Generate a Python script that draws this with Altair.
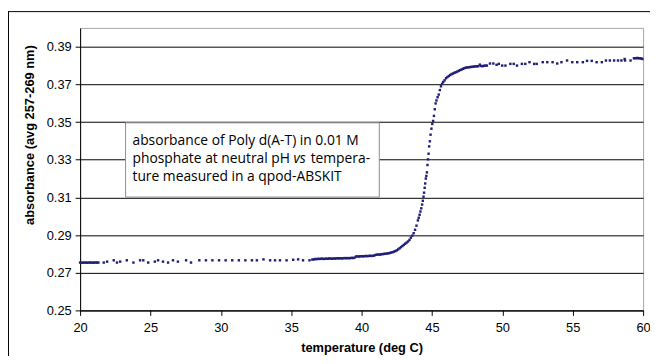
import altair as alt
import pandas as pd

# ---- data ----
temps_low = [20.0, 20.1, 20.2, 20.3, 20.4, 20.5, 20.6, 20.7, 20.8, 20.9,
             21.0, 21.1, 21.2, 21.3,
             21.68, 21.92, 22.39, 22.62, 22.85,
             23.32, 23.79, 24.26, 24.49, 24.84,
             25.31, 25.54, 25.89, 26.25, 26.6,
             26.95, 27.53, 27.88, 28.47, 28.94,
             29.4, 29.87, 30.34, 30.81, 31.28,
             31.74, 32.21, 32.56, 33.03, 33.5,
             33.85, 34.2, 34.67, 35.14, 35.49,
             35.84, 36.3]
abs_low = [0.2754, 0.2754, 0.2753, 0.2754, 0.2754, 0.2753, 0.2754, 0.2754, 0.2754, 0.2753,
           0.2754, 0.2754, 0.2754, 0.2754,
           0.2754, 0.2759, 0.2766, 0.2754, 0.2759,
           0.2766, 0.2754, 0.2766, 0.2766, 0.2754,
           0.2759, 0.2766, 0.2759, 0.2754, 0.2766,
           0.2759, 0.2766, 0.2754, 0.2766, 0.2766,
           0.2766, 0.2766, 0.2766, 0.2766, 0.2766,
           0.2766, 0.2766, 0.2766, 0.2771, 0.2766,
           0.2766, 0.2766, 0.2766, 0.2769, 0.2771,
           0.2766, 0.2766]

temps_pre = [36.5, 36.6, 36.7, 36.8, 36.9, 37.0, 37.1, 37.2, 37.3, 37.4,
             37.5, 37.6, 37.7, 37.8, 37.9, 38.0, 38.1, 38.2, 38.3, 38.4,
             38.5, 38.6, 38.7, 38.8, 38.9, 39.0, 39.1, 39.2, 39.3, 39.4,
             39.5, 39.6, 39.7, 39.8, 39.9, 40.0, 40.1, 40.2, 40.3, 40.4,
             40.5, 40.6, 40.7, 40.8, 40.9, 41.0, 41.1, 41.2, 41.3, 41.4,
             41.5, 41.6, 41.7, 41.8, 41.9]
abs_pre = [0.2770, 0.2771, 0.2773, 0.2772, 0.2774, 0.2773, 0.2774, 0.2775, 0.2773, 0.2774,
           0.2775, 0.2774, 0.2776, 0.2775, 0.2774, 0.2776, 0.2775, 0.2776, 0.2777, 0.2776,
           0.2777, 0.2776, 0.2777, 0.2778, 0.2777, 0.2778, 0.2777, 0.2778, 0.2779, 0.2778,
           0.2780, 0.2786, 0.2787, 0.2786, 0.2787, 0.2788, 0.2787, 0.2788, 0.2789, 0.2788,
           0.2789, 0.2790, 0.2789, 0.2790, 0.2791, 0.2795, 0.2796, 0.2797, 0.2796, 0.2798,
           0.2799, 0.2800, 0.2801, 0.2802, 0.2803]

temps_melt = [42.0, 42.1, 42.2, 42.3, 42.4, 42.5, 42.6, 42.7, 42.8, 42.9,
              43.0, 43.1, 43.2, 43.3, 43.4, 43.5, 43.6, 43.7, 43.8, 43.9,
              44.0, 44.06, 44.12, 44.18, 44.24, 44.3, 44.35, 44.4, 44.44, 44.48,
              44.52, 44.56, 44.6, 44.64, 44.68, 44.72, 44.76, 44.8, 44.85, 44.9,
              44.96, 45.02, 45.08, 45.14, 45.2, 45.26, 45.32, 45.4, 45.48, 45.56,
              45.64, 45.72, 45.8, 45.9, 46.0, 46.1, 46.2, 46.3, 46.4, 46.5,
              46.6, 46.7, 46.8, 46.9, 47.0, 47.1, 47.2, 47.3, 47.4, 47.5,
              47.6, 47.7, 47.8, 47.9, 48.0, 48.1, 48.2, 48.3, 48.4, 48.5,
              48.6, 48.7, 48.8, 48.9]
abs_melt = [0.2805, 0.2807, 0.2809, 0.2812, 0.2815, 0.2819, 0.2824, 0.2830, 0.2836, 0.2842,
            0.2848, 0.2854, 0.2860, 0.2866, 0.2874, 0.2886, 0.2897, 0.2910, 0.2928, 0.2950,
            0.2978, 0.2992, 0.3008, 0.3025, 0.3042, 0.3062, 0.3082, 0.3104, 0.3125, 0.3151,
            0.3174, 0.3200, 0.3214, 0.3233, 0.3272, 0.3302, 0.3332, 0.3371, 0.3398, 0.3433,
            0.3465, 0.3490, 0.3506, 0.3533, 0.3568, 0.3599, 0.3615, 0.3632, 0.3646, 0.3670,
            0.3690, 0.3703, 0.3713, 0.3722, 0.3733, 0.3739, 0.3745, 0.3750, 0.3755, 0.3758,
            0.3762, 0.3765, 0.3768, 0.3772, 0.3776, 0.3779, 0.3783, 0.3786, 0.3789, 0.3790,
            0.3791, 0.3792, 0.3793, 0.3794, 0.3795, 0.3796, 0.3796, 0.3797, 0.3805, 0.3798,
            0.3797, 0.3799, 0.3800, 0.3800]

temps_high = [49.12, 49.36, 49.59, 49.75, 49.99,
              50.22, 50.57, 50.81, 51.04, 51.39,
              51.63, 51.93, 52.26, 52.44, 52.87,
              53.19, 53.57, 53.9, 54.2, 54.6,
              54.97, 55.32, 55.72, 56.02, 56.35,
              56.7, 57.07, 57.36, 57.64, 57.94,
              58.22, 58.46, 58.69, 58.72, 59.11,
              59.35, 59.46, 59.55, 59.62, 59.7,
              59.8, 59.88, 59.95]
abs_high = [0.3811, 0.3811, 0.3804, 0.3809, 0.3800,
            0.3800, 0.3809, 0.3809, 0.3800, 0.3809,
            0.3809, 0.3818, 0.3809, 0.3809, 0.3818,
            0.3818, 0.3818, 0.3811, 0.3818, 0.3827,
            0.3818, 0.3818, 0.3818, 0.3825, 0.3825,
            0.3818, 0.3818, 0.3827, 0.3827, 0.3827,
            0.3827, 0.3827, 0.3835, 0.3827, 0.3827,
            0.3839, 0.3839, 0.3840, 0.3840, 0.3839,
            0.3839, 0.3837, 0.3835]

x_ticks = [20, 25, 30, 35, 40, 45, 50, 55, 60]
y_ticks = [0.25, 0.27, 0.29, 0.31, 0.33, 0.35, 0.37, 0.39]

note_lines = ["absorbance of Poly d(A-T) in 0.01 M",
              "phosphate at neutral pH",
              "ture measured in a qpod-ABSKIT"]

temps = temps_low + temps_pre + temps_melt + temps_high
absv = abs_low + abs_pre + abs_melt + abs_high
df = pd.DataFrame({"t": temps, "a": absv})

xs = alt.Scale(domain=[20, 60], nice=False, zero=False)
ys = alt.Scale(domain=[0.25, 0.40], nice=False, zero=False)

one = pd.DataFrame({"k": [0]})

# outer chart frame (left and top edges)
frame_left = alt.Chart(one).mark_rule(color="#000000", strokeWidth=1).encode(
    x=alt.value(-72.5), y=alt.value(-16.5), y2=alt.value(400))
frame_top = alt.Chart(one).mark_rule(color="#000000", strokeWidth=1).encode(
    x=alt.value(-73), x2=alt.value(700), y=alt.value(-16.5))

points = alt.Chart(df).mark_square(size=6, color="#1f1f78", opacity=1).encode(
    x=alt.X("t:Q", scale=xs, title="temperature (deg C)",
            axis=alt.Axis(values=x_ticks, grid=False, tickSize=5, labelPadding=6,
                          labelFlush=False, titleX=285, titleY=38,
                          titleBaseline="middle", titleAlign="center")),
    y=alt.Y("a:Q", scale=ys, title="absorbance (avg 257-269 nm)",
            axis=alt.Axis(values=y_ticks, format=".2f", grid=True, tickSize=5,
                          labelPadding=4, labelFlush=False, titleX=-51, titleY=108,
                          titleBaseline="middle", titleAlign="center", titleAngle=-90)),
)

box_df = pd.DataFrame({"x1": [23.23], "x2": [41.26], "y1": [0.3102], "y2": [0.3496]})
box = alt.Chart(box_df).mark_rect(fill="white", stroke="#8c8c8c", strokeWidth=1).encode(
    x=alt.X("x1:Q", scale=xs), x2="x2:Q",
    y=alt.Y("y1:Q", scale=ys), y2="y2:Q")

FS = 14
txt_df = pd.DataFrame({"x": [23.72, 23.72, 23.72], "y": [0.3378, 0.3283, 0.3189],
                       "s": note_lines})
txt = alt.Chart(txt_df).mark_text(align="left", baseline="alphabetic", font="Open Sans",
                                  fontSize=FS, color="#000000").encode(
    x=alt.X("x:Q", scale=xs), y=alt.Y("y:Q", scale=ys), text="s:N")

vs_df = pd.DataFrame({"x": [35.16], "y": [0.3283], "s": ["vs"]})
vs = alt.Chart(vs_df).mark_text(align="left", baseline="alphabetic", font="Open Sans",
                                fontSize=FS, fontStyle="italic", color="#000000").encode(
    x=alt.X("x:Q", scale=xs), y=alt.Y("y:Q", scale=ys), text="s:N")

tp_df = pd.DataFrame({"x": [36.38], "y": [0.3283], "s": ["tempera-"]})
tp = alt.Chart(tp_df).mark_text(align="left", baseline="alphabetic", font="Open Sans",
                                fontSize=FS, color="#000000").encode(
    x=alt.X("x:Q", scale=xs), y=alt.Y("y:Q", scale=ys), text="s:N")

chart = alt.layer(frame_left, frame_top, points, box, txt, vs, tp).properties(
    width=570, height=286,
    autosize=alt.AutoSizeParams(type="none"),
    padding={"left": 73, "top": 18, "right": 7, "bottom": 44},
    background="white",
).configure_view(stroke="#a6a6a6", strokeWidth=1).configure_axis(
    labelFont="Liberation Sans", labelFontSize=13, labelColor="#000000",
    titleFont="Liberation Sans", titleFontSize=13, titleFontWeight="bold",
    titleColor="#000000", tickColor="#000000", domainColor="#000000",
    gridColor="#000000", gridWidth=1, gridOpacity=1, domainWidth=1, tickWidth=1,
)

chart.save("out.html", embed_options={"renderer": "svg", "actions": False})
